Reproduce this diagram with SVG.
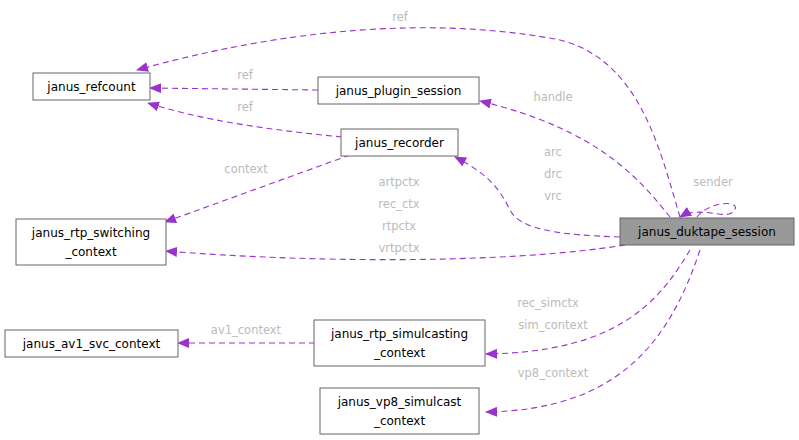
<svg xmlns="http://www.w3.org/2000/svg" width="799" height="440" viewBox="0 0 799 440">
<style>
.n rect{fill:#fff;stroke:#666;stroke-width:1}
.n text,.l{font-family:"DejaVu Sans",sans-serif;font-size:12px}
.n text{fill:#000;text-anchor:middle}
.l{fill:#bbb;font-size:11.5px;text-anchor:middle}
.e{fill:none;stroke:#9a32cd;stroke-width:1.1;stroke-dasharray:6,4}
</style>
<defs><marker id="a" markerWidth="12" markerHeight="10" refX="11" refY="5" orient="auto" markerUnits="userSpaceOnUse"><path d="M0,0 L12,5 L0,10 Z" fill="#9a32cd"/></marker></defs>
<rect width="799" height="440" fill="#fff"/>
<g id="connectors">
<path class="e" marker-end="url(#a)" d="M680,217 C660,150 640,60 560,40 C430,15 280,30 137,70"/>
<path class="e" marker-end="url(#a)" d="M318,90 L150,88"/>
<path class="e" marker-end="url(#a)" d="M342,137 C270,130 200,120 148,103"/>
<path class="e" marker-end="url(#a)" d="M670,217 C640,180 600,130 480,101"/>
<path class="e" marker-end="url(#a)" d="M620,237 C560,235 520,230 510,210 C500,190 490,175 455,157"/>
<path class="e" marker-end="url(#a)" d="M350,155 L165,222"/>
<path class="e" marker-end="url(#a)" d="M625,245 C500,265 300,262 166,251"/>
<path class="e" marker-end="url(#a)" d="M315,343 L178,343"/>
<path class="e" marker-end="url(#a)" d="M690,250 C660,300 620,352 486,354"/>
<path class="e" marker-end="url(#a)" d="M700,250 C670,340 620,410 486,412"/>
<path class="e" marker-end="url(#a)" d="M697,217 C710,200 745,200 733,212 C725,220 700,205 680,217"/>
</g>
<g class="l">
<text x="400" y="21">ref</text>
<text x="245" y="79">ref</text>
<text x="245" y="111">ref</text>
<text x="553" y="101">handle</text>
<text x="553" y="156">arc</text>
<text x="553" y="178">drc</text>
<text x="553" y="200">vrc</text>
<text x="246" y="173">context</text>
<text x="399" y="186">artpctx</text>
<text x="399" y="208">rec_ctx</text>
<text x="399" y="230">rtpctx</text>
<text x="399" y="252">vrtpctx</text>
<text x="713" y="186">sender</text>
<text x="246" y="334">av1_context</text>
<text x="548" y="307">rec_simctx</text>
<text x="553" y="329">sim_context</text>
<text x="553" y="377">vp8_context</text>
</g>
<g id="janus_refcount" class="n"><rect x="33" y="73" width="117" height="27"/><text x="91.5" y="91">janus_refcount</text></g>
<g id="janus_plugin_session" class="n"><rect x="318" y="77" width="161" height="27"/><text x="398.5" y="95">janus_plugin_session</text></g>
<g id="janus_recorder" class="n"><rect x="341" y="129" width="117" height="27"/><text x="399.5" y="147">janus_recorder</text></g>
<g id="janus_rtp_switching_context" class="n"><rect x="16" y="219" width="150" height="46"/><text x="91" y="237">janus_rtp_switching</text><text x="91" y="256">_context</text></g>
<g id="janus_duktape_session" class="n"><rect x="620" y="218" width="174" height="27" style="fill:#999"/><text x="707" y="236">janus_duktape_session</text></g>
<g id="janus_av1_svc_context" class="n"><rect x="5" y="330" width="173" height="27"/><text x="91.5" y="348">janus_av1_svc_context</text></g>
<g id="janus_rtp_simulcasting_context" class="n"><rect x="314" y="320" width="171" height="46"/><text x="399.5" y="338">janus_rtp_simulcasting</text><text x="399.5" y="357">_context</text></g>
<g id="janus_vp8_simulcast_context" class="n"><rect x="320" y="388" width="159" height="46"/><text x="399.5" y="406">janus_vp8_simulcast</text><text x="399.5" y="425">_context</text></g>
</svg>
